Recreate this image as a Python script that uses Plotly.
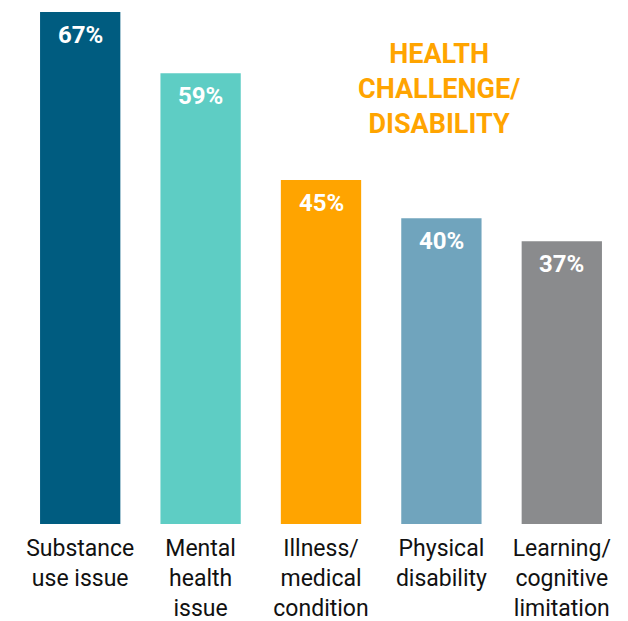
import plotly.graph_objects as go

categories = ["Substance<br>use issue", "Mental<br>health<br>issue", "Illness/<br>medical<br>condition",
              "Physical<br>disability", "Learning/<br>cognitive<br>limitation"]
values = [67, 59, 45, 40, 37]
value_labels = ["67%", "59%", "45%", "40%", "37%"]
colors = ["#005C80", "#5ECDC4", "#FFA400", "#70A4BD", "#8A8B8D"]
title_text = "HEALTH<br>CHALLENGE/<br>DISABILITY"

FONT = "Roboto, 'DejaVu Sans Condensed', sans-serif"

fig = go.Figure()
fig.add_trace(go.Bar(x=categories, y=values, marker=dict(color=colors, line=dict(width=0)),
                     hoverinfo="skip"))

for c, v, t in zip(categories, values, value_labels):
    fig.add_annotation(x=c, y=v, text=f"<b>{t}</b>", showarrow=False, yanchor="middle",
                       yshift=-23, font=dict(family=FONT, size=24, color="white"))

fig.add_annotation(xref="paper", yref="paper", x=0.696, y=0.85, text=f"<b>{title_text}</b>",
                   showarrow=False, align="center", xanchor="center", yanchor="middle",
                   font=dict(family=FONT, size=27, color="#FFA400"))

fig.update_layout(
    width=628, height=621,
    margin=dict(l=12, r=14, t=4, b=105, autoexpand=False),
    paper_bgcolor="white", plot_bgcolor="white",
    bargap=0.333,
    showlegend=False,
    xaxis=dict(showgrid=False, zeroline=False, showline=False, ticks="", automargin=False,
               ticklabelstandoff=8,
               tickfont=dict(family=FONT, size=23, color="#111111")),
    yaxis=dict(range=[0, 67], visible=False, showgrid=False, zeroline=False),
    font=dict(family=FONT),
)

fig.write_html("out.html")
